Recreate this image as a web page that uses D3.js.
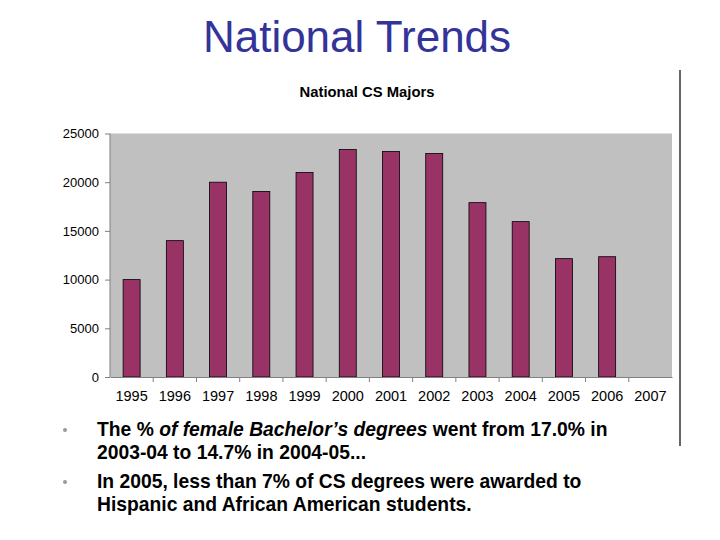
<!DOCTYPE html>
<html><head><meta charset="utf-8">
<script src="https://cdn.jsdelivr.net/npm/d3@7"></script>
<style>body{margin:0;background:#fff}svg{display:block;font-family:"Liberation Sans",Arial,sans-serif}</style>
</head><body><svg id="c" width="720" height="540"></svg>
<script>
const years = ["1995","1996","1997","1998","1999","2000","2001","2002","2003","2004","2005","2006","2007"];
const majors = [10000,14000,20000,19050,21000,23350,23150,22950,17900,15950,12150,12350];
const yTicks = [0,5000,10000,15000,20000,25000];

const svg = d3.select("#c");
svg.append("text").attr("x",357).attr("y",52).attr("text-anchor","middle")
  .attr("font-size",44).attr("fill","#333399").text("National Trends");
svg.append("line").attr("x1",680).attr("x2",680).attr("y1",70).attr("y2",446).attr("stroke","#333").attr("stroke-width",1.5);
svg.append("text").attr("x",367).attr("y",97).attr("text-anchor","middle")
  .attr("font-size",14.8).attr("font-weight","bold").text("National CS Majors");

const L=110,R=672,T=133.5,B=377;
const x = d3.scaleBand().domain(years).range([L,R]);
const y = d3.scaleLinear().domain([0,25000]).range([B,T]);
svg.append("rect").attr("x",L).attr("y",T).attr("width",R-L).attr("height",B-T).attr("fill","#c0c0c0");
svg.selectAll(".bar").data(majors).join("rect")
  .attr("x",(d,i)=>x(years[i])+x.bandwidth()/2-8.5).attr("width",17)
  .attr("y",d=>y(d)).attr("height",d=>B-y(d))
  .attr("fill","#993366").attr("stroke","#000").attr("stroke-width",0.8);

const ya = svg.append("g").attr("transform",`translate(${L},0)`)
  .call(d3.axisLeft(y).tickValues(yTicks).tickFormat(d3.format("d")).tickSize(5).tickPadding(6));
const xa = svg.append("g").attr("transform",`translate(0,${B})`)
  .call(d3.axisBottom(x).tickSize(0).tickPadding(14));
[ya,xa].forEach(a=>{a.selectAll("path,line").attr("stroke","#808080");
  a.selectAll("text").attr("fill","#000").attr("font-family","Liberation Sans, Arial, sans-serif");});
ya.selectAll("text").attr("font-size",13);
xa.selectAll("text").attr("font-size",14.5);
ya.select(".domain").attr("d",`M0,${T}V${B}`);
svg.append("g").selectAll("line").data(years.slice(1)).join("line")
  .attr("x1",d=>x(d)).attr("x2",d=>x(d)).attr("y1",B).attr("y2",B+5).attr("stroke","#808080");

const bullets = [
  {y:436, lines:[[["The % ","normal"],["of female Bachelor’s degrees","italic"],[" went from 17.0% in","normal"]],[["2003-04 to 14.7% in 2004-05...","normal"]]]},
  {y:488, lines:[[["In 2005, less than 7% of CS degrees were awarded to","normal"]],[["Hispanic and African American students.","normal"]]]}
];
bullets.forEach(b=>{
  svg.append("circle").attr("cx",65).attr("cy",b.y-6).attr("r",2).attr("fill","#999");
  b.lines.forEach((ln,j)=>{
    const t=svg.append("text").attr("x",97).attr("y",b.y+j*23).attr("font-size",19.3).attr("font-weight","bold");
    ln.forEach(s=>t.append("tspan").attr("font-style",s[1]).text(s[0]));
  });
});
</script></body></html>
